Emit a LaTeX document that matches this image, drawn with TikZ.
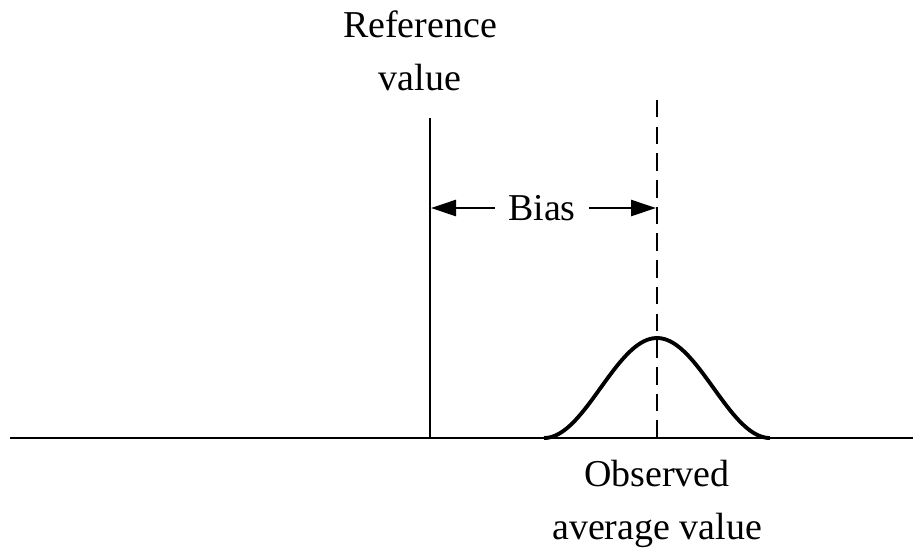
\documentclass[tikz,border=0pt]{standalone}
\usepackage{fontspec}
\setmainfont{Liberation Serif}
\usetikzlibrary{arrows.meta,positioning,calc}
\tikzset{
  label/.style={font=\fontsize{10.8}{15}\selectfont, align=center, inner sep=3.6pt},
  axis/.style={line width=0.75pt, black},
  meanline/.style={line width=0.75pt, black, dash pattern=on 5pt off 2.6pt},
  bellcurve/.style={line width=1.1pt, black},
  biasarrow/.style={-{Triangle[length=2.5mm,width=1.6mm]}, line width=0.75pt, black},
}

\begin{document}
\begin{tikzpicture}
  \useasboundingbox (0,0) rectangle (9.13,5.53);

  \def\peak{6.57}
  \def\half{1.13}

  % baseline and the two vertical lines
  \coordinate (axisL) at (0.10,1.15);
  \coordinate (axisR) at (9.13,1.15);
  \coordinate (refbot) at (4.30,1.15);
  \coordinate (reftop) at (4.30,4.35);
  \coordinate (obsbot) at (\peak,1.15);
  \coordinate (obstop) at (\peak,4.61);

  \draw[axis] (axisL) -- (axisR);
  \draw[axis] (refbot) -- (reftop);
  \draw[meanline] (obsbot) -- (obstop);

  % bell curve around the observed average
  \draw[bellcurve, domain=-\half:\half, samples=80, smooth]
    plot ({\peak+\x}, {1.15+0.5*(1+cos(deg(pi*\x/\half)))});

  % labels
  \node[label] (reftext) at (4.20,5.02) {Reference\\value};
  \node[label] (obstext) at (\peak,0.49) {Observed\\average value};
  \node[label] (bias) at (5.42,3.45) {Bias};

  % bias arrows
  \coordinate (refhit) at (4.31,3.45);
  \coordinate (obshit) at (\peak-0.01,3.45);
  \draw[biasarrow] (bias.west) -- (refhit);
  \draw[biasarrow] (bias.east) -- (obshit);

\end{tikzpicture}
\end{document}
